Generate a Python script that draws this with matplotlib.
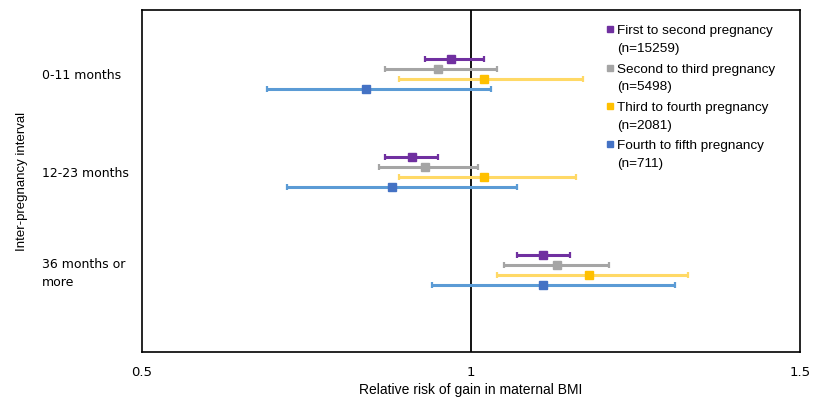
import matplotlib
matplotlib.use("Agg")
import matplotlib.pyplot as plt
from matplotlib.lines import Line2D
from matplotlib.legend_handler import HandlerLine2D
import numpy as np

groups = ["0-11 months", "12-23 months", "36 months or\nmore"]

series = ["First to second pregnancy\n(n=15259)",
          "Second to third pregnancy\n(n=5498)",
          "Third to fourth pregnancy\n(n=2081)",
          "Fourth to fifth pregnancy\n(n=711)"]

# relative risk and 95% CI per interval group
first_rr = [0.97, 0.91, 1.11]
first_lo = [0.93, 0.87, 1.07]
first_hi = [1.02, 0.95, 1.15]

second_rr = [0.95, 0.93, 1.13]
second_lo = [0.87, 0.86, 1.05]
second_hi = [1.04, 1.01, 1.21]

third_rr = [1.02, 1.02, 1.18]
third_lo = [0.89, 0.89, 1.04]
third_hi = [1.17, 1.16, 1.33]

fourth_rr = [0.84, 0.88, 1.11]
fourth_lo = [0.69, 0.72, 0.94]
fourth_hi = [1.03, 1.07, 1.31]

line_colors = ["#7030A0", "#A5A5A5", "#FFD966", "#5B9BD5"]
marker_colors = ["#7030A0", "#A5A5A5", "#FFC000", "#4472C4"]


class TopMarkerHandler(HandlerLine2D):
    # put the legend square next to the first line of a two-line label
    def create_artists(self, legend, orig_handle, xdescent, ydescent,
                       width, height, fontsize, trans):
        arts = super().create_artists(legend, orig_handle, xdescent, ydescent,
                                      width, height, fontsize, trans)
        for a in arts:
            a.set_ydata(np.asarray(a.get_ydata()) + 0.8 * fontsize)
        return arts


fig = plt.figure(figsize=(8.13, 3.99), dpi=100)
ax = fig.add_axes([0.1747, 0.1178, 0.8093, 0.8572])

data = [(first_rr, first_lo, first_hi), (second_rr, second_lo, second_hi),
        (third_rr, third_lo, third_hi), (fourth_rr, fourth_lo, fourth_hi)]
offsets = [-0.153, -0.051, 0.051, 0.153]
ypos = np.arange(len(groups))

ax.axvline(1.0, color="black", linewidth=1.3, zorder=1)

handles = []
for (rr, lo, hi), off, lc, mc, name in zip(data, offsets, line_colors, marker_colors, series):
    rr = np.array(rr)
    err = [rr - np.array(lo), np.array(hi) - rr]
    ax.errorbar(rr, ypos + off, xerr=err, fmt="s", color=lc, ecolor=lc,
                markerfacecolor=mc, markeredgecolor=mc, markersize=5.5,
                elinewidth=2.2, capsize=2.2, capthick=1.6, zorder=3)
    handles.append(Line2D([], [], marker="s", linestyle="none", markersize=5,
                          markerfacecolor=mc, markeredgecolor=mc, label=name))

ax.set_xlim(0.5, 1.5)
ax.set_ylim(2.837, -0.653)
ax.set_xticks([0.5, 1.0, 1.5])
ax.set_xticklabels(["0.5", "1", "1.5"], fontsize=9.5, family="DejaVu Sans")
ax.set_yticks(ypos)
ax.set_yticklabels(groups, fontsize=9, family="DejaVu Sans", ha="left",
                   linespacing=1.45)
ax.tick_params(axis="y", length=0, pad=72)
ax.tick_params(axis="x", length=0, pad=10)
for s in ax.spines.values():
    s.set_color("black")
    s.set_linewidth(1.2)

ax.set_xlabel("Relative risk of gain in maternal BMI", fontsize=10,
              family=["Liberation Sans Narrow", "Liberation Sans"], labelpad=3)
ax.set_ylabel("Inter-pregnancy interval", fontsize=9.5, family="Liberation Sans")
ax.yaxis.set_label_coords(-0.174, 0.5)

leg = ax.legend(handles=handles, loc="upper left", bbox_to_anchor=(0.705, 0.955),
                frameon=False, prop={"family": "Liberation Sans", "size": 9.7},
                handlelength=0.55, handletextpad=0.3, labelspacing=0.62,
                borderaxespad=0, borderpad=0,
                handler_map={Line2D: TopMarkerHandler()})
for t in leg.get_texts():
    t.set_linespacing(1.65)

fig.savefig("out.png", dpi=100, facecolor="white")
